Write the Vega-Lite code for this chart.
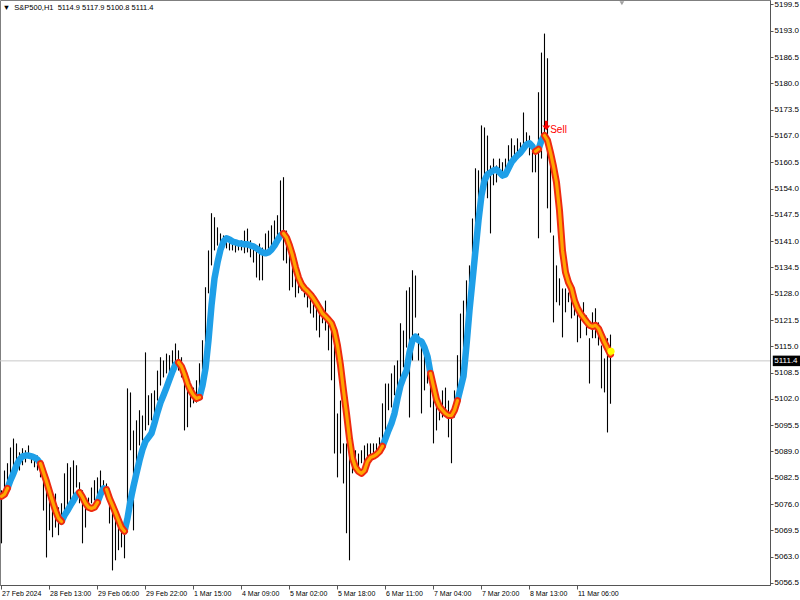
{
"$schema": "https://vega.github.io/schema/vega-lite/v6.json",
"width": 770, "height": 585,
"autosize": {"type": "none"},
"padding": {"left": 0, "top": 0, "right": 30, "bottom": 15},
"background": "white",
"config": {"view": {"stroke": "#7f7f7f", "strokeWidth": 1}, "text": {"font": "Liberation Sans"}},
"resolve": {"axis": {"x": "independent", "y": "independent"}},
"datasets": {
"bars": [
{"i":0,"h":5079.4,"l":5066.3},{"i":1,"h":5084.3,"l":5077.6},{"i":2,"h":5086.1,"l":5078.6},{"i":3,"h":5090.0,"l":5080.6},{"i":4,"h":5092.2,"l":5083.6},{"i":5,"h":5091.0,"l":5086.8},{"i":6,"h":5088.8,"l":5084.3},{"i":7,"h":5089.8,"l":5085.6},{"i":8,"h":5089.3,"l":5086.3},{"i":9,"h":5090.5,"l":5087.5},
{"i":10,"h":5088.5,"l":5086.1},{"i":11,"h":5087.5,"l":5085.1},{"i":12,"h":5088.0,"l":5084.3},{"i":13,"h":5086.1,"l":5082.6},{"i":14,"h":5084.3,"l":5074.4},{"i":15,"h":5080.1,"l":5062.8},{"i":16,"h":5078.6,"l":5069.5},{"i":17,"h":5076.9,"l":5067.8},{"i":18,"h":5078.6,"l":5070.2},{"i":19,"h":5075.2,"l":5068.3},
{"i":20,"h":5076.2,"l":5072.0},{"i":21,"h":5083.6,"l":5072.7},{"i":22,"h":5086.1,"l":5073.7},{"i":23,"h":5085.1,"l":5076.2},{"i":24,"h":5086.8,"l":5076.9},{"i":25,"h":5085.6,"l":5080.1},{"i":26,"h":5081.4,"l":5076.2},{"i":27,"h":5079.4,"l":5066.3},{"i":28,"h":5077.6,"l":5070.2},{"i":29,"h":5077.6,"l":5074.4},
{"i":30,"h":5080.1,"l":5076.2},{"i":31,"h":5081.9,"l":5076.9},{"i":32,"h":5082.6,"l":5077.6},{"i":33,"h":5084.3,"l":5079.4},{"i":34,"h":5081.9,"l":5078.6},{"i":35,"h":5081.1,"l":5077.6},{"i":36,"h":5078.6,"l":5071.2},{"i":37,"h":5076.9,"l":5059.6},{"i":38,"h":5072.0,"l":5062.1},{"i":39,"h":5070.2,"l":5064.6},
{"i":40,"h":5069.5,"l":5065.3},{"i":41,"h":5069.5,"l":5062.6},{"i":42,"h":5104.6,"l":5069.5},{"i":43,"h":5103.6,"l":5089.3},{"i":44,"h":5094.2,"l":5069.5},{"i":45,"h":5096.7,"l":5084.3},{"i":46,"h":5099.2,"l":5090.5},{"i":47,"h":5097.9,"l":5091.7},{"i":48,"h":5113.5,"l":5094.2},{"i":49,"h":5102.9,"l":5095.5},
{"i":50,"h":5103.4,"l":5096.7},{"i":51,"h":5104.1,"l":5097.9},{"i":52,"h":5109.0,"l":5101.6},{"i":53,"h":5112.3,"l":5105.3},{"i":54,"h":5111.5,"l":5107.3},{"i":55,"h":5113.2,"l":5108.3},{"i":56,"h":5112.8,"l":5108.6},{"i":57,"h":5114.0,"l":5109.0},{"i":58,"h":5115.7,"l":5110.8},{"i":59,"h":5114.0,"l":5109.0},
{"i":60,"h":5112.3,"l":5107.3},{"i":61,"h":5109.8,"l":5094.2},{"i":62,"h":5107.3,"l":5095.0},{"i":63,"h":5105.8,"l":5099.9},{"i":64,"h":5104.8,"l":5100.9},{"i":65,"h":5106.6,"l":5101.1},{"i":66,"h":5110.8,"l":5101.6},{"i":67,"h":5116.5,"l":5109.0},{"i":68,"h":5129.6,"l":5113.2},{"i":69,"h":5138.7,"l":5128.1},
{"i":70,"h":5147.9,"l":5135.0},{"i":71,"h":5146.9,"l":5138.7},{"i":72,"h":5144.4,"l":5139.9},{"i":73,"h":5142.9,"l":5139.4},{"i":74,"h":5142.4,"l":5139.2},{"i":75,"h":5141.9,"l":5139.2},{"i":76,"h":5141.7,"l":5138.7},{"i":77,"h":5140.7,"l":5138.7},{"i":78,"h":5140.4,"l":5138.2},{"i":79,"h":5140.7,"l":5138.7},
{"i":80,"h":5141.2,"l":5138.7},{"i":81,"h":5143.6,"l":5138.0},{"i":82,"h":5144.1,"l":5138.2},{"i":83,"h":5141.2,"l":5137.0},{"i":84,"h":5139.9,"l":5135.7},{"i":85,"h":5138.7,"l":5132.0},{"i":86,"h":5140.4,"l":5131.3},{"i":87,"h":5139.4,"l":5131.3},{"i":88,"h":5142.9,"l":5138.0},{"i":89,"h":5143.6,"l":5138.7},
{"i":90,"h":5144.9,"l":5139.4},{"i":91,"h":5146.1,"l":5140.4},{"i":92,"h":5147.4,"l":5141.2},{"i":93,"h":5156.0,"l":5141.9},{"i":94,"h":5156.8,"l":5136.2},{"i":95,"h":5143.6,"l":5135.5},{"i":96,"h":5138.0,"l":5128.8},{"i":97,"h":5135.5,"l":5129.6},{"i":98,"h":5132.0,"l":5127.1},{"i":99,"h":5131.3,"l":5128.1},
{"i":100,"h":5132.0,"l":5128.8},{"i":101,"h":5130.5,"l":5127.1},{"i":102,"h":5129.6,"l":5124.6},{"i":103,"h":5128.1,"l":5123.1},{"i":104,"h":5128.1,"l":5122.1},{"i":105,"h":5126.3,"l":5118.9},{"i":106,"h":5125.6,"l":5117.2},{"i":107,"h":5124.6,"l":5120.7},{"i":108,"h":5126.3,"l":5118.9},{"i":109,"h":5122.1,"l":5114.0},
{"i":110,"h":5119.7,"l":5106.6},{"i":111,"h":5120.7,"l":5088.5},{"i":112,"h":5098.4,"l":5082.6},{"i":113,"h":5101.6,"l":5088.5},{"i":114,"h":5091.0,"l":5081.1},{"i":115,"h":5091.0,"l":5068.8},{"i":116,"h":5087.5,"l":5062.1},{"i":117,"h":5089.3,"l":5083.6},{"i":118,"h":5089.3,"l":5085.1},{"i":119,"h":5088.5,"l":5084.3},
{"i":120,"h":5089.3,"l":5086.1},{"i":121,"h":5090.5,"l":5086.3},{"i":122,"h":5091.0,"l":5086.8},{"i":123,"h":5091.0,"l":5087.5},{"i":124,"h":5091.0,"l":5087.5},{"i":125,"h":5091.0,"l":5088.5},{"i":126,"h":5092.5,"l":5089.3},{"i":127,"h":5100.9,"l":5091.0},{"i":128,"h":5105.8,"l":5094.2},{"i":129,"h":5105.8,"l":5099.2},
{"i":130,"h":5108.3,"l":5099.9},{"i":131,"h":5110.3,"l":5102.9},{"i":132,"h":5111.5,"l":5104.1},{"i":133,"h":5120.7,"l":5105.8},{"i":134,"h":5118.9,"l":5109.8},{"i":135,"h":5128.8,"l":5114.7},{"i":136,"h":5129.6,"l":5097.4},{"i":137,"h":5133.8,"l":5111.5},{"i":138,"h":5132.5,"l":5122.1},{"i":139,"h":5118.2,"l":5111.5},
{"i":140,"h":5115.7,"l":5098.4},{"i":141,"h":5115.7,"l":5104.1},{"i":142,"h":5111.5,"l":5105.8},{"i":143,"h":5109.0,"l":5099.9},{"i":144,"h":5105.8,"l":5091.0},{"i":145,"h":5102.4,"l":5094.2},{"i":146,"h":5101.6,"l":5096.7},{"i":147,"h":5104.1,"l":5097.4},{"i":148,"h":5104.8,"l":5099.2},{"i":149,"h":5101.6,"l":5092.5},
{"i":150,"h":5099.2,"l":5086.1},{"i":151,"h":5104.1,"l":5097.4},{"i":152,"h":5112.8,"l":5101.6},{"i":153,"h":5123.1,"l":5106.6},{"i":154,"h":5126.3,"l":5111.5},{"i":155,"h":5131.3,"l":5116.5},{"i":156,"h":5135.0,"l":5120.2},{"i":157,"h":5146.6,"l":5131.8},{"i":158,"h":5159.0,"l":5138.2},{"i":159,"h":5158.5,"l":5147.4},
{"i":160,"h":5169.6,"l":5153.0},{"i":161,"h":5169.1,"l":5156.5},{"i":162,"h":5167.1,"l":5151.6},{"i":163,"h":5159.7,"l":5142.9},{"i":164,"h":5161.4,"l":5154.8},{"i":165,"h":5159.7,"l":5155.5},{"i":166,"h":5161.4,"l":5157.2},{"i":167,"h":5160.5,"l":5156.5},{"i":168,"h":5161.4,"l":5158.0},{"i":169,"h":5164.7,"l":5159.0},
{"i":170,"h":5166.4,"l":5159.7},{"i":171,"h":5164.7,"l":5160.5},{"i":172,"h":5166.4,"l":5162.2},{"i":173,"h":5165.4,"l":5162.9},{"i":174,"h":5172.8,"l":5163.9},{"i":175,"h":5167.9,"l":5163.9},{"i":176,"h":5167.1,"l":5162.2},{"i":177,"h":5165.4,"l":5158.0},{"i":178,"h":5162.9,"l":5158.0},{"i":179,"h":5177.8,"l":5141.7},
{"i":180,"h":5187.6,"l":5161.4},{"i":181,"h":5192.3,"l":5167.1},{"i":182,"h":5186.2,"l":5149.1},{"i":183,"h":5161.4,"l":5143.1},{"i":184,"h":5142.4,"l":5120.9},{"i":185,"h":5135.0,"l":5125.9},{"i":186,"h":5131.8,"l":5125.1},{"i":187,"h":5129.3,"l":5117.2},{"i":188,"h":5129.3,"l":5123.4},{"i":189,"h":5128.3,"l":5125.9},
{"i":190,"h":5126.8,"l":5121.9},{"i":191,"h":5125.9,"l":5122.6},{"i":192,"h":5124.4,"l":5116.0},{"i":193,"h":5122.6,"l":5117.0},{"i":194,"h":5125.9,"l":5121.9},{"i":195,"h":5122.6,"l":5117.7},{"i":196,"h":5117.0,"l":5105.8},{"i":197,"h":5123.4,"l":5117.0},{"i":198,"h":5124.4,"l":5117.0},{"i":199,"h":5120.9,"l":5115.2},
{"i":200,"h":5115.2,"l":5104.6},{"i":201,"h":5112.0,"l":5103.6},{"i":202,"h":5117.0,"l":5093.7},{"i":203,"h":5117.9,"l":5100.8}
],
"ma": [
{"i":0,"v":5077.9,"s":1,"d":"dn"},{"i":1,"v":5078.4,"s":1,"d":"dn"},{"i":2,"v":5079.9,"s":1,"d":"dn"},
{"i":2,"v":5079.9,"s":2,"d":"up"},{"i":3,"v":5081.9,"s":2,"d":"up"},{"i":4,"v":5083.6,"s":2,"d":"up"},{"i":5,"v":5085.6,"s":2,"d":"up"},{"i":6,"v":5087.0,"s":2,"d":"up"},{"i":7,"v":5087.8,"s":2,"d":"up"},{"i":8,"v":5088.0,"s":2,"d":"up"},{"i":9,"v":5088.0,"s":2,"d":"up"},{"i":10,"v":5087.8,"s":2,"d":"up"},{"i":11,"v":5087.5,"s":2,"d":"up"},{"i":12,"v":5087.0,"s":2,"d":"up"},{"i":13,"v":5086.0,"s":2,"d":"up"},
{"i":13,"v":5086.0,"s":3,"d":"dn"},{"i":14,"v":5083.8,"s":3,"d":"dn"},{"i":15,"v":5081.6,"s":3,"d":"dn"},{"i":16,"v":5079.1,"s":3,"d":"dn"},{"i":17,"v":5076.7,"s":3,"d":"dn"},{"i":18,"v":5074.4,"s":3,"d":"dn"},{"i":19,"v":5072.5,"s":3,"d":"dn"},{"i":20,"v":5071.7,"s":3,"d":"dn"},
{"i":20,"v":5071.7,"s":4,"d":"up"},{"i":21,"v":5073.2,"s":4,"d":"up"},{"i":22,"v":5074.4,"s":4,"d":"up"},{"i":23,"v":5075.7,"s":4,"d":"up"},{"i":24,"v":5076.9,"s":4,"d":"up"},{"i":25,"v":5078.2,"s":4,"d":"up"},{"i":26,"v":5078.9,"s":4,"d":"up"},
{"i":26,"v":5078.9,"s":5,"d":"dn"},{"i":27,"v":5077.7,"s":5,"d":"dn"},{"i":28,"v":5076.2,"s":5,"d":"dn"},{"i":29,"v":5075.2,"s":5,"d":"dn"},{"i":30,"v":5074.9,"s":5,"d":"dn"},{"i":31,"v":5075.2,"s":5,"d":"dn"},{"i":32,"v":5076.4,"s":5,"d":"dn"},
{"i":32,"v":5076.4,"s":6,"d":"up"},{"i":33,"v":5078.4,"s":6,"d":"up"},{"i":34,"v":5079.9,"s":6,"d":"up"},{"i":35,"v":5079.6,"s":6,"d":"up"},
{"i":35,"v":5079.6,"s":7,"d":"dn"},{"i":36,"v":5077.4,"s":7,"d":"dn"},{"i":37,"v":5075.7,"s":7,"d":"dn"},{"i":38,"v":5073.9,"s":7,"d":"dn"},{"i":39,"v":5072.0,"s":7,"d":"dn"},{"i":40,"v":5070.2,"s":7,"d":"dn"},{"i":41,"v":5069.3,"s":7,"d":"dn"},
{"i":41,"v":5069.3,"s":8,"d":"up"},{"i":42,"v":5072.5,"s":8,"d":"up"},{"i":43,"v":5076.9,"s":8,"d":"up"},{"i":44,"v":5080.4,"s":8,"d":"up"},{"i":45,"v":5083.6,"s":8,"d":"up"},{"i":46,"v":5086.8,"s":8,"d":"up"},{"i":47,"v":5089.5,"s":8,"d":"up"},{"i":48,"v":5091.5,"s":8,"d":"up"},{"i":49,"v":5092.5,"s":8,"d":"up"},{"i":50,"v":5093.5,"s":8,"d":"up"},{"i":51,"v":5096.0,"s":8,"d":"up"},{"i":52,"v":5098.7,"s":8,"d":"up"},{"i":53,"v":5101.1,"s":8,"d":"up"},{"i":54,"v":5102.9,"s":8,"d":"up"},{"i":55,"v":5104.8,"s":8,"d":"up"},{"i":56,"v":5106.8,"s":8,"d":"up"},{"i":57,"v":5108.8,"s":8,"d":"up"},{"i":58,"v":5110.5,"s":8,"d":"up"},{"i":59,"v":5111.0,"s":8,"d":"up"},
{"i":59,"v":5111.0,"s":9,"d":"dn"},{"i":60,"v":5110.0,"s":9,"d":"dn"},{"i":61,"v":5108.1,"s":9,"d":"dn"},{"i":62,"v":5105.8,"s":9,"d":"dn"},{"i":63,"v":5104.1,"s":9,"d":"dn"},{"i":64,"v":5102.9,"s":9,"d":"dn"},{"i":65,"v":5102.1,"s":9,"d":"dn"},{"i":66,"v":5102.4,"s":9,"d":"dn"},
{"i":66,"v":5102.4,"s":10,"d":"up"},{"i":67,"v":5105.3,"s":10,"d":"up"},{"i":68,"v":5109.5,"s":10,"d":"up"},{"i":69,"v":5116.5,"s":10,"d":"up"},{"i":70,"v":5125.1,"s":10,"d":"up"},{"i":71,"v":5131.8,"s":10,"d":"up"},{"i":72,"v":5135.7,"s":10,"d":"up"},{"i":73,"v":5138.9,"s":10,"d":"up"},{"i":74,"v":5140.9,"s":10,"d":"up"},{"i":75,"v":5141.7,"s":10,"d":"up"},{"i":76,"v":5141.4,"s":10,"d":"up"},{"i":77,"v":5140.9,"s":10,"d":"up"},{"i":78,"v":5140.7,"s":10,"d":"up"},{"i":79,"v":5140.4,"s":10,"d":"up"},{"i":80,"v":5140.4,"s":10,"d":"up"},{"i":81,"v":5140.2,"s":10,"d":"up"},{"i":82,"v":5140.2,"s":10,"d":"up"},{"i":83,"v":5139.9,"s":10,"d":"up"},{"i":84,"v":5139.7,"s":10,"d":"up"},{"i":85,"v":5139.2,"s":10,"d":"up"},{"i":86,"v":5138.7,"s":10,"d":"up"},{"i":87,"v":5138.2,"s":10,"d":"up"},{"i":88,"v":5138.0,"s":10,"d":"up"},{"i":89,"v":5138.2,"s":10,"d":"up"},{"i":90,"v":5138.9,"s":10,"d":"up"},{"i":91,"v":5139.9,"s":10,"d":"up"},{"i":92,"v":5141.2,"s":10,"d":"up"},{"i":93,"v":5142.4,"s":10,"d":"up"},{"i":94,"v":5142.9,"s":10,"d":"up"},
{"i":94,"v":5142.9,"s":11,"d":"dn"},{"i":95,"v":5141.9,"s":11,"d":"dn"},{"i":96,"v":5139.9,"s":11,"d":"dn"},{"i":97,"v":5137.5,"s":11,"d":"dn"},{"i":98,"v":5134.5,"s":11,"d":"dn"},{"i":99,"v":5132.0,"s":11,"d":"dn"},{"i":100,"v":5130.3,"s":11,"d":"dn"},{"i":101,"v":5129.3,"s":11,"d":"dn"},{"i":102,"v":5128.6,"s":11,"d":"dn"},{"i":103,"v":5127.8,"s":11,"d":"dn"},{"i":104,"v":5126.8,"s":11,"d":"dn"},{"i":105,"v":5125.6,"s":11,"d":"dn"},{"i":106,"v":5124.4,"s":11,"d":"dn"},{"i":107,"v":5123.1,"s":11,"d":"dn"},{"i":108,"v":5122.4,"s":11,"d":"dn"},{"i":109,"v":5121.6,"s":11,"d":"dn"},{"i":110,"v":5120.7,"s":11,"d":"dn"},{"i":111,"v":5118.7,"s":11,"d":"dn"},{"i":112,"v":5115.2,"s":11,"d":"dn"},{"i":113,"v":5110.3,"s":11,"d":"dn"},{"i":114,"v":5104.1,"s":11,"d":"dn"},{"i":115,"v":5098.4,"s":11,"d":"dn"},{"i":116,"v":5092.2,"s":11,"d":"dn"},{"i":117,"v":5087.3,"s":11,"d":"dn"},{"i":118,"v":5085.1,"s":11,"d":"dn"},{"i":119,"v":5084.1,"s":11,"d":"dn"},{"i":120,"v":5083.6,"s":11,"d":"dn"},{"i":121,"v":5084.3,"s":11,"d":"dn"},{"i":122,"v":5086.5,"s":11,"d":"dn"},{"i":123,"v":5087.5,"s":11,"d":"dn"},{"i":124,"v":5087.8,"s":11,"d":"dn"},{"i":125,"v":5088.3,"s":11,"d":"dn"},{"i":126,"v":5089.0,"s":11,"d":"dn"},{"i":127,"v":5090.3,"s":11,"d":"dn"},
{"i":127,"v":5090.3,"s":12,"d":"up"},{"i":128,"v":5092.2,"s":12,"d":"up"},{"i":129,"v":5094.2,"s":12,"d":"up"},{"i":130,"v":5096.0,"s":12,"d":"up"},{"i":131,"v":5098.4,"s":12,"d":"up"},{"i":132,"v":5102.1,"s":12,"d":"up"},{"i":133,"v":5105.3,"s":12,"d":"up"},{"i":134,"v":5107.3,"s":12,"d":"up"},{"i":135,"v":5109.0,"s":12,"d":"up"},{"i":136,"v":5113.5,"s":12,"d":"up"},{"i":137,"v":5116.5,"s":12,"d":"up"},{"i":138,"v":5117.4,"s":12,"d":"up"},{"i":139,"v":5116.5,"s":12,"d":"up"},{"i":140,"v":5116.2,"s":12,"d":"up"},{"i":141,"v":5114.7,"s":12,"d":"up"},{"i":142,"v":5112.5,"s":12,"d":"up"},{"i":143,"v":5108.3,"s":12,"d":"up"},
{"i":143,"v":5108.3,"s":13,"d":"dn"},{"i":144,"v":5105.1,"s":13,"d":"dn"},{"i":145,"v":5101.9,"s":13,"d":"dn"},{"i":146,"v":5100.1,"s":13,"d":"dn"},{"i":147,"v":5099.2,"s":13,"d":"dn"},{"i":148,"v":5098.4,"s":13,"d":"dn"},{"i":149,"v":5097.9,"s":13,"d":"dn"},{"i":150,"v":5097.9,"s":13,"d":"dn"},{"i":151,"v":5099.2,"s":13,"d":"dn"},{"i":152,"v":5101.6,"s":13,"d":"dn"},
{"i":152,"v":5101.6,"s":14,"d":"up"},{"i":153,"v":5104.6,"s":14,"d":"up"},{"i":154,"v":5107.6,"s":14,"d":"up"},{"i":155,"v":5115.2,"s":14,"d":"up"},{"i":156,"v":5123.9,"s":14,"d":"up"},{"i":157,"v":5131.3,"s":14,"d":"up"},{"i":158,"v":5138.7,"s":14,"d":"up"},{"i":159,"v":5146.1,"s":14,"d":"up"},{"i":160,"v":5152.3,"s":14,"d":"up"},{"i":161,"v":5156.0,"s":14,"d":"up"},{"i":162,"v":5157.5,"s":14,"d":"up"},{"i":163,"v":5158.0,"s":14,"d":"up"},{"i":164,"v":5158.5,"s":14,"d":"up"},{"i":165,"v":5158.7,"s":14,"d":"up"},{"i":166,"v":5158.0,"s":14,"d":"up"},{"i":167,"v":5157.2,"s":14,"d":"up"},{"i":168,"v":5157.5,"s":14,"d":"up"},{"i":169,"v":5159.0,"s":14,"d":"up"},{"i":170,"v":5160.5,"s":14,"d":"up"},{"i":171,"v":5161.4,"s":14,"d":"up"},{"i":172,"v":5162.2,"s":14,"d":"up"},{"i":173,"v":5162.9,"s":14,"d":"up"},{"i":174,"v":5163.9,"s":14,"d":"up"},{"i":175,"v":5164.9,"s":14,"d":"up"},{"i":176,"v":5165.2,"s":14,"d":"up"},{"i":177,"v":5164.4,"s":14,"d":"up"},
{"i":178,"v":5163.2,"s":15,"d":"dn"},{"i":179,"v":5163.7,"s":15,"d":"dn"},
{"i":179,"v":5163.7,"s":16,"d":"up"},{"i":180,"v":5165.9,"s":16,"d":"up"},{"i":181,"v":5167.1,"s":16,"d":"up"},
{"i":181,"v":5167.1,"s":17,"d":"dn"},{"i":182,"v":5165.9,"s":17,"d":"dn"},{"i":183,"v":5162.9,"s":17,"d":"dn"},{"i":184,"v":5159.5,"s":17,"d":"dn"},{"i":185,"v":5155.5,"s":17,"d":"dn"},{"i":186,"v":5148.6,"s":17,"d":"dn"},{"i":187,"v":5138.7,"s":17,"d":"dn"},{"i":188,"v":5133.3,"s":17,"d":"dn"},{"i":189,"v":5130.8,"s":17,"d":"dn"},{"i":190,"v":5129.3,"s":17,"d":"dn"},{"i":191,"v":5126.3,"s":17,"d":"dn"},{"i":192,"v":5124.4,"s":17,"d":"dn"},{"i":193,"v":5123.1,"s":17,"d":"dn"},{"i":194,"v":5122.1,"s":17,"d":"dn"},{"i":195,"v":5121.1,"s":17,"d":"dn"},{"i":196,"v":5120.2,"s":17,"d":"dn"},{"i":197,"v":5119.9,"s":17,"d":"dn"},{"i":198,"v":5120.2,"s":17,"d":"dn"},{"i":199,"v":5119.4,"s":17,"d":"dn"},{"i":200,"v":5117.7,"s":17,"d":"dn"},{"i":201,"v":5116.0,"s":17,"d":"dn"},{"i":202,"v":5114.5,"s":17,"d":"dn"},{"i":203,"v":5113.0,"s":17,"d":"dn"}
],
"one": [{}]
},
"layer": [
{
"data": {"name": "one"},
"mark": {"type": "rule", "color": "#c8c8c8", "strokeWidth": 1},
"encoding": {
"y": {"datum": 5111.4, "scale": {"domain": [5056.0, 5200.6], "nice": false, "zero": false}, "axis": null}
}
},
{
"data": {"name": "bars"},
"mark": {"type": "rule", "color": "#000000", "strokeWidth": 1.1},
"encoding": {
"x": {"field": "i", "type": "quantitative", "title": null,
"scale": {"domain": [-0.5, 256.17], "nice": false, "zero": false},
"axis": {"values": [0,16,32,48,64,80,96,112,128,144,160,176,192],
"labelExpr": "['27 Feb 2024','28 Feb 13:00','29 Feb 06:00','29 Feb 22:00','1 Mar 15:00','4 Mar 09:00','5 Mar 02:00','5 Mar 18:00','6 Mar 11:00','7 Mar 04:00','7 Mar 20:00','8 Mar 13:00','11 Mar 06:00'][round(datum.value/16)]",
"labelAlign": "left", "labelOffset": 0, "labelBaseline": "top", "labelPadding": 0, "tickSize": 4,
"tickColor": "#555555", "domainColor": "#555555", "labelFont": "Liberation Sans", "labelFontSize": 7,
"labelColor": "#000000", "grid": false, "labelFlush": false, "labelOverlap": false}},
"y": {"field": "h", "type": "quantitative", "title": null,
"scale": {"domain": [5056.0, 5200.6], "nice": false, "zero": false},
"axis": {"orient": "right", "values": [5056.5,5063,5069.5,5076,5082.5,5089,5095.5,5102,5108.5,5115,5121.5,5128,5134.5,5141,5147.5,5154,5160.5,5167,5173.5,5180,5186.5,5193,5199.5],
"format": ".1f", "tickSize": 3, "labelPadding": 1, "labelFont": "Liberation Sans", "labelFontSize": 8,
"labelColor": "#000000", "tickColor": "#555555", "domainColor": "#555555", "grid": false,
"labelFlush": false, "labelOverlap": false, "labelBaseline": "middle"}},
"y2": {"field": "l"}
}
},
{
"data": {"name": "ma"},
"transform": [{"filter": "datum.d == 'up'"}],
"mark": {"type": "line", "color": "#1e9fe8", "strokeWidth": 6.5, "strokeCap": "round", "strokeJoin": "round"},
"encoding": {
"x": {"field": "i", "type": "quantitative", "scale": {"domain": [-0.5, 256.17], "nice": false, "zero": false}, "axis": null},
"y": {"field": "v", "type": "quantitative", "scale": {"domain": [5056.0, 5200.6], "nice": false, "zero": false}, "axis": null},
"detail": {"field": "s", "type": "nominal"}
}
},
{
"data": {"name": "ma"},
"transform": [{"filter": "datum.d == 'dn'"}],
"mark": {"type": "line", "color": "#ee2a10", "strokeWidth": 7, "strokeCap": "round", "strokeJoin": "round"},
"encoding": {
"x": {"field": "i", "type": "quantitative", "scale": {"domain": [-0.5, 256.17], "nice": false, "zero": false}, "axis": null},
"y": {"field": "v", "type": "quantitative", "scale": {"domain": [5056.0, 5200.6], "nice": false, "zero": false}, "axis": null},
"detail": {"field": "s", "type": "nominal"}
}
},
{
"data": {"name": "ma"},
"transform": [{"filter": "datum.d == 'dn'"}],
"mark": {"type": "line", "color": "#ffa500", "strokeWidth": 3.2, "strokeCap": "round", "strokeJoin": "round"},
"encoding": {
"x": {"field": "i", "type": "quantitative", "scale": {"domain": [-0.5, 256.17], "nice": false, "zero": false}, "axis": null},
"y": {"field": "v", "type": "quantitative", "scale": {"domain": [5056.0, 5200.6], "nice": false, "zero": false}, "axis": null},
"detail": {"field": "s", "type": "nominal"}
}
},
{
"data": {"name": "one"},
"mark": {"type": "point", "filled": true, "color": "#ffff00", "size": 50, "opacity": 1},
"encoding": {
"x": {"datum": 203.2, "scale": {"domain": [-0.5, 256.17], "nice": false, "zero": false}, "axis": null},
"y": {"datum": 5113.8, "scale": {"domain": [5056.0, 5200.6], "nice": false, "zero": false}, "axis": null}
}
},
{
"data": {"name": "one"},
"mark": {"type": "point", "filled": true, "color": "#ff0000", "size": 90, "opacity": 1, "shape": "M-0.3,-1H0.3V0H0.85L0,1L-0.85,0H-0.3Z"},
"encoding": {
"x": {"datum": 181.6, "scale": {"domain": [-0.5, 256.17], "nice": false, "zero": false}, "axis": null},
"y": {"datum": 5169.6, "scale": {"domain": [5056.0, 5200.6], "nice": false, "zero": false}, "axis": null}
}
},
{
"data": {"name": "one"},
"mark": {"type": "text", "text": "Sell", "color": "#ff0000", "fontSize": 10, "align": "left", "baseline": "middle", "font": "Liberation Sans"},
"encoding": {
"x": {"datum": 182.9, "scale": {"domain": [-0.5, 256.17], "nice": false, "zero": false}, "axis": null},
"y": {"datum": 5168.5, "scale": {"domain": [5056.0, 5200.6], "nice": false, "zero": false}, "axis": null}
}
},
{
"data": {"name": "one"},
"mark": {"type": "text", "text": "▼\u00a0\u00a0S&P500,H1\u00a0\u00a05114.9 5117.9 5100.8 5111.4", "color": "#000000", "fontSize": 7.5, "align": "left", "baseline": "middle", "font": "Liberation Sans"},
"encoding": {
"x": {"datum": 0.4, "scale": {"domain": [-0.5, 256.17], "nice": false, "zero": false}, "axis": null},
"y": {"datum": 5198.6, "scale": {"domain": [5056.0, 5200.6], "nice": false, "zero": false}, "axis": null}
}
},
{
"data": {"name": "one"},
"mark": {"type": "point", "filled": true, "color": "#a0a0a0", "size": 22, "shape": "triangle-down", "opacity": 1},
"encoding": {
"x": {"datum": 206.8, "scale": {"domain": [-0.5, 256.17], "nice": false, "zero": false}, "axis": null},
"y": {"datum": 5199.8, "scale": {"domain": [5056.0, 5200.6], "nice": false, "zero": false}, "axis": null}
}
},
{
"data": {"name": "one"},
"mark": {"type": "rect", "color": "#000000"},
"encoding": {
"x": {"datum": 257.1, "scale": {"domain": [-0.5, 256.17], "nice": false, "zero": false}, "axis": null},
"x2": {"datum": 266.6},
"y": {"datum": 5112.7, "scale": {"domain": [5056.0, 5200.6], "nice": false, "zero": false}, "axis": null},
"y2": {"datum": 5110.1}
}
},
{
"data": {"name": "one"},
"mark": {"type": "text", "text": "5111.4", "color": "#ffffff", "fontSize": 8, "align": "left", "baseline": "middle", "font": "Liberation Sans"},
"encoding": {
"x": {"datum": 257.6, "scale": {"domain": [-0.5, 256.17], "nice": false, "zero": false}, "axis": null},
"y": {"datum": 5111.4, "scale": {"domain": [5056.0, 5200.6], "nice": false, "zero": false}, "axis": null}
}
}
]
}
